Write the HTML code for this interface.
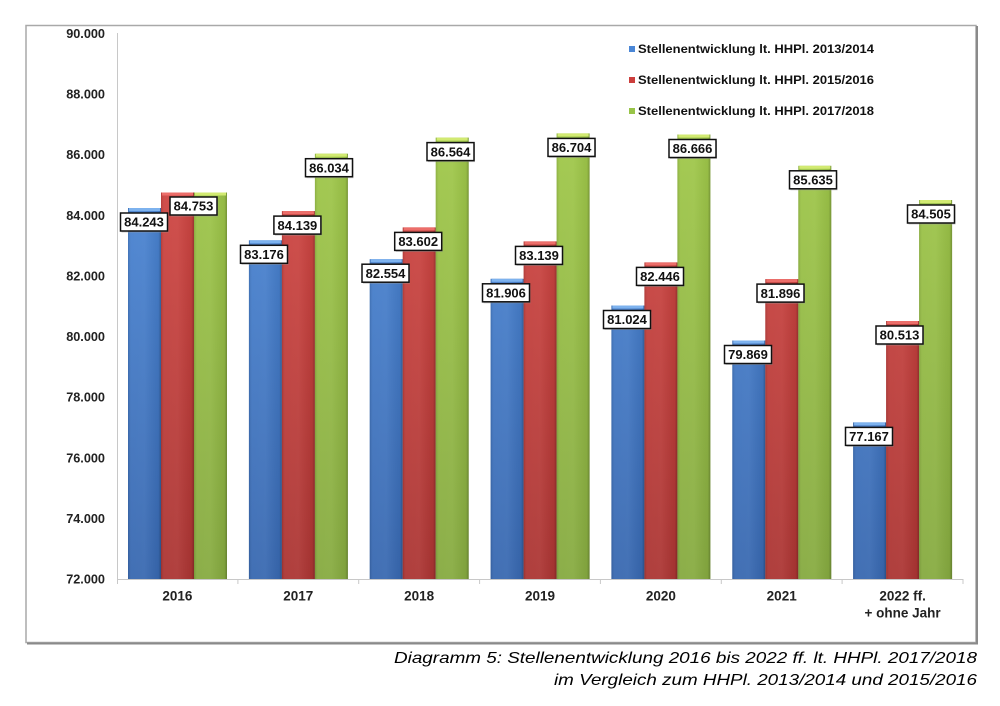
<!DOCTYPE html>
<html><head><meta charset="utf-8"><style>
html,body{margin:0;padding:0;background:#fff;}
svg{display:block;}
text{font-family:"Liberation Sans",Arial,sans-serif;}
</style></head><body>
<svg width="1000" height="706" viewBox="0 0 1000 706" xmlns="http://www.w3.org/2000/svg">
<defs>
<linearGradient id="gb" gradientUnits="userSpaceOnUse" x1="0" y1="33" x2="0" y2="579"><stop offset="0" stop-color="#5290e0"/><stop offset="1" stop-color="#3868b0"/></linearGradient>
<linearGradient id="gr" gradientUnits="userSpaceOnUse" x1="0" y1="33" x2="0" y2="579"><stop offset="0" stop-color="#dc4c48"/><stop offset="1" stop-color="#ab3533"/></linearGradient>
<linearGradient id="gg" gradientUnits="userSpaceOnUse" x1="0" y1="33" x2="0" y2="579"><stop offset="0" stop-color="#a6cf4c"/><stop offset="1" stop-color="#86aa40"/></linearGradient>
<linearGradient id="side" x1="0" y1="0" x2="1" y2="0"><stop offset="0" stop-color="#000" stop-opacity="0.12"/><stop offset="0.1" stop-color="#fff" stop-opacity="0.05"/><stop offset="0.5" stop-color="#fff" stop-opacity="0.06"/><stop offset="0.92" stop-color="#000" stop-opacity="0.05"/><stop offset="1" stop-color="#000" stop-opacity="0.25"/></linearGradient>
</defs>
<rect width="1000" height="706" fill="#fff"/>
<!-- frame -->
<rect x="26" y="25.5" width="950" height="617" fill="#fff" stroke="#a9a9a9" stroke-width="1.5"/>
<line x1="977" y1="26" x2="977" y2="644" stroke="#8a8a8a" stroke-width="2"/>
<line x1="27" y1="643.5" x2="978" y2="643.5" stroke="#8a8a8a" stroke-width="2"/>

<!-- axes -->
<line x1="117.5" y1="33" x2="117.5" y2="579" stroke="#c8c8c8" stroke-width="1"/>
<line x1="117" y1="579.5" x2="963" y2="579.5" stroke="#c8c8c8" stroke-width="1"/>
<g stroke="#c8c8c8" stroke-width="1">
<line x1="117.5" y1="579" x2="117.5" y2="584"/>
<line x1="237.9" y1="579" x2="237.9" y2="584"/>
<line x1="358.7" y1="579" x2="358.7" y2="584"/>
<line x1="479.6" y1="579" x2="479.6" y2="584"/>
<line x1="600.4" y1="579" x2="600.4" y2="584"/>
<line x1="721.3" y1="579" x2="721.3" y2="584"/>
<line x1="842.1" y1="579" x2="842.1" y2="584"/>
<line x1="963" y1="579" x2="963" y2="584"/>
</g>

<!-- y labels -->
<g font-size="12.7" font-weight="bold" fill="#222" text-anchor="end">
<text x="105" y="38">90.000</text>
<text x="105" y="98.6">88.000</text>
<text x="105" y="159.2">86.000</text>
<text x="105" y="219.8">84.000</text>
<text x="105" y="280.4">82.000</text>
<text x="105" y="341.1">80.000</text>
<text x="105" y="401.7">78.000</text>
<text x="105" y="462.3">76.000</text>
<text x="105" y="522.9">74.000</text>
<text x="105" y="583.5">72.000</text>
</g>

<!-- x labels -->
<g font-size="13.5" font-weight="bold" fill="#222" text-anchor="middle">
<text x="177.4" y="600.5">2016</text>
<text x="298.3" y="600.5">2017</text>
<text x="419.1" y="600.5">2018</text>
<text x="540" y="600.5">2019</text>
<text x="660.9" y="600.5">2020</text>
<text x="781.7" y="600.5">2021</text>
<text x="902.6" y="600.5">2022 ff.</text>
<text x="902.6" y="617.5">+ ohne Jahr</text>
</g>

<!-- bars -->
<g>
<rect x="128" y="208" width="33" height="371" fill="url(#gb)"/>
<rect x="161" y="192.5" width="33" height="386.5" fill="url(#gr)"/>
<rect x="194" y="192.5" width="33" height="386.5" fill="url(#gg)"/>
<rect x="248.9" y="240.3" width="33" height="338.7" fill="url(#gb)"/>
<rect x="281.9" y="211.1" width="33" height="367.9" fill="url(#gr)"/>
<rect x="314.9" y="153.7" width="33" height="425.3" fill="url(#gg)"/>
<rect x="369.7" y="259.2" width="33" height="319.8" fill="url(#gb)"/>
<rect x="402.7" y="227.4" width="33" height="351.6" fill="url(#gr)"/>
<rect x="435.7" y="137.6" width="33" height="441.4" fill="url(#gg)"/>
<rect x="490.6" y="278.8" width="33" height="300.2" fill="url(#gb)"/>
<rect x="523.6" y="241.4" width="33" height="337.6" fill="url(#gr)"/>
<rect x="556.6" y="133.4" width="33" height="445.6" fill="url(#gg)"/>
<rect x="611.4" y="305.5" width="33" height="273.5" fill="url(#gb)"/>
<rect x="644.4" y="262.4" width="33" height="316.6" fill="url(#gr)"/>
<rect x="677.4" y="134.5" width="33" height="444.5" fill="url(#gg)"/>
<rect x="732.3" y="340.5" width="33" height="238.5" fill="url(#gb)"/>
<rect x="765.3" y="279.1" width="33" height="299.9" fill="url(#gr)"/>
<rect x="798.3" y="165.8" width="33" height="413.2" fill="url(#gg)"/>
<rect x="853.1" y="422.4" width="33" height="156.6" fill="url(#gb)"/>
<rect x="886.1" y="321" width="33" height="258" fill="url(#gr)"/>
<rect x="919.1" y="200" width="33" height="379" fill="url(#gg)"/>
</g>
<!-- side shading overlay -->
<g>
<rect x="128" y="208" width="33" height="371" fill="url(#side)"/>
<rect x="161" y="192.5" width="33" height="386.5" fill="url(#side)"/>
<rect x="194" y="192.5" width="33" height="386.5" fill="url(#side)"/>
<rect x="248.9" y="240.3" width="33" height="338.7" fill="url(#side)"/>
<rect x="281.9" y="211.1" width="33" height="367.9" fill="url(#side)"/>
<rect x="314.9" y="153.7" width="33" height="425.3" fill="url(#side)"/>
<rect x="369.7" y="259.2" width="33" height="319.8" fill="url(#side)"/>
<rect x="402.7" y="227.4" width="33" height="351.6" fill="url(#side)"/>
<rect x="435.7" y="137.6" width="33" height="441.4" fill="url(#side)"/>
<rect x="490.6" y="278.8" width="33" height="300.2" fill="url(#side)"/>
<rect x="523.6" y="241.4" width="33" height="337.6" fill="url(#side)"/>
<rect x="556.6" y="133.4" width="33" height="445.6" fill="url(#side)"/>
<rect x="611.4" y="305.5" width="33" height="273.5" fill="url(#side)"/>
<rect x="644.4" y="262.4" width="33" height="316.6" fill="url(#side)"/>
<rect x="677.4" y="134.5" width="33" height="444.5" fill="url(#side)"/>
<rect x="732.3" y="340.5" width="33" height="238.5" fill="url(#side)"/>
<rect x="765.3" y="279.1" width="33" height="299.9" fill="url(#side)"/>
<rect x="798.3" y="165.8" width="33" height="413.2" fill="url(#side)"/>
<rect x="853.1" y="422.4" width="33" height="156.6" fill="url(#side)"/>
<rect x="886.1" y="321" width="33" height="258" fill="url(#side)"/>
<rect x="919.1" y="200" width="33" height="379" fill="url(#side)"/>
</g>
<!-- caps -->
<g>
<rect x="129" y="208" width="31" height="3" fill="#7db2ee"/>
<rect x="162" y="192.5" width="31" height="3" fill="#ec6e6a"/>
<rect x="195" y="192.5" width="31" height="3" fill="#d2ea72"/>
<rect x="249.9" y="240.3" width="31" height="3" fill="#7db2ee"/>
<rect x="282.9" y="211.1" width="31" height="3" fill="#ec6e6a"/>
<rect x="315.9" y="153.7" width="31" height="3" fill="#d2ea72"/>
<rect x="370.7" y="259.2" width="31" height="3" fill="#7db2ee"/>
<rect x="403.7" y="227.4" width="31" height="3" fill="#ec6e6a"/>
<rect x="436.7" y="137.6" width="31" height="3" fill="#d2ea72"/>
<rect x="491.6" y="278.8" width="31" height="3" fill="#7db2ee"/>
<rect x="524.6" y="241.4" width="31" height="3" fill="#ec6e6a"/>
<rect x="557.6" y="133.4" width="31" height="3" fill="#d2ea72"/>
<rect x="612.4" y="305.5" width="31" height="3" fill="#7db2ee"/>
<rect x="645.4" y="262.4" width="31" height="3" fill="#ec6e6a"/>
<rect x="678.4" y="134.5" width="31" height="3" fill="#d2ea72"/>
<rect x="733.3" y="340.5" width="31" height="3" fill="#7db2ee"/>
<rect x="766.3" y="279.1" width="31" height="3" fill="#ec6e6a"/>
<rect x="799.3" y="165.8" width="31" height="3" fill="#d2ea72"/>
<rect x="854.1" y="422.4" width="31" height="3" fill="#7db2ee"/>
<rect x="887.1" y="321" width="31" height="3" fill="#ec6e6a"/>
<rect x="920.1" y="200" width="31" height="3" fill="#d2ea72"/>
</g>

<!-- data labels -->
<g font-size="13" font-weight="bold" fill="#111" text-anchor="middle">
<g transform="translate(144,213)"><rect x="-22.5" y="1.5" width="47" height="18" fill="#999" opacity="0.5"/><rect x="-23.5" y="0" width="47" height="18" fill="#fff" stroke="#111" stroke-width="1.5"/><text x="0" y="13.7">84.243</text></g>
<g transform="translate(193.5,197)"><rect x="-22.5" y="1.5" width="47" height="18" fill="#999" opacity="0.5"/><rect x="-23.5" y="0" width="47" height="18" fill="#fff" stroke="#111" stroke-width="1.5"/><text x="0" y="13.7">84.753</text></g>

<g transform="translate(264,245.3)"><rect x="-22.5" y="1.5" width="47" height="18" fill="#999" opacity="0.5"/><rect x="-23.5" y="0" width="47" height="18" fill="#fff" stroke="#111" stroke-width="1.5"/><text x="0" y="13.7">83.176</text></g>
<g transform="translate(297.4,216.1)"><rect x="-22.5" y="1.5" width="47" height="18" fill="#999" opacity="0.5"/><rect x="-23.5" y="0" width="47" height="18" fill="#fff" stroke="#111" stroke-width="1.5"/><text x="0" y="13.7">84.139</text></g>
<g transform="translate(329,158.7)"><rect x="-22.5" y="1.5" width="47" height="18" fill="#999" opacity="0.5"/><rect x="-23.5" y="0" width="47" height="18" fill="#fff" stroke="#111" stroke-width="1.5"/><text x="0" y="13.7">86.034</text></g>

<g transform="translate(385.5,264.2)"><rect x="-22.5" y="1.5" width="47" height="18" fill="#999" opacity="0.5"/><rect x="-23.5" y="0" width="47" height="18" fill="#fff" stroke="#111" stroke-width="1.5"/><text x="0" y="13.7">82.554</text></g>
<g transform="translate(418.2,232.4)"><rect x="-22.5" y="1.5" width="47" height="18" fill="#999" opacity="0.5"/><rect x="-23.5" y="0" width="47" height="18" fill="#fff" stroke="#111" stroke-width="1.5"/><text x="0" y="13.7">83.602</text></g>
<g transform="translate(450.5,142.6)"><rect x="-22.5" y="1.5" width="47" height="18" fill="#999" opacity="0.5"/><rect x="-23.5" y="0" width="47" height="18" fill="#fff" stroke="#111" stroke-width="1.5"/><text x="0" y="13.7">86.564</text></g>

<g transform="translate(506,283.8)"><rect x="-22.5" y="1.5" width="47" height="18" fill="#999" opacity="0.5"/><rect x="-23.5" y="0" width="47" height="18" fill="#fff" stroke="#111" stroke-width="1.5"/><text x="0" y="13.7">81.906</text></g>
<g transform="translate(539,246.4)"><rect x="-22.5" y="1.5" width="47" height="18" fill="#999" opacity="0.5"/><rect x="-23.5" y="0" width="47" height="18" fill="#fff" stroke="#111" stroke-width="1.5"/><text x="0" y="13.7">83.139</text></g>
<g transform="translate(571.5,138.4)"><rect x="-22.5" y="1.5" width="47" height="18" fill="#999" opacity="0.5"/><rect x="-23.5" y="0" width="47" height="18" fill="#fff" stroke="#111" stroke-width="1.5"/><text x="0" y="13.7">86.704</text></g>

<g transform="translate(627,310.5)"><rect x="-22.5" y="1.5" width="47" height="18" fill="#999" opacity="0.5"/><rect x="-23.5" y="0" width="47" height="18" fill="#fff" stroke="#111" stroke-width="1.5"/><text x="0" y="13.7">81.024</text></g>
<g transform="translate(660,267.4)"><rect x="-22.5" y="1.5" width="47" height="18" fill="#999" opacity="0.5"/><rect x="-23.5" y="0" width="47" height="18" fill="#fff" stroke="#111" stroke-width="1.5"/><text x="0" y="13.7">82.446</text></g>
<g transform="translate(692.5,139.5)"><rect x="-22.5" y="1.5" width="47" height="18" fill="#999" opacity="0.5"/><rect x="-23.5" y="0" width="47" height="18" fill="#fff" stroke="#111" stroke-width="1.5"/><text x="0" y="13.7">86.666</text></g>

<g transform="translate(748,345.5)"><rect x="-22.5" y="1.5" width="47" height="18" fill="#999" opacity="0.5"/><rect x="-23.5" y="0" width="47" height="18" fill="#fff" stroke="#111" stroke-width="1.5"/><text x="0" y="13.7">79.869</text></g>
<g transform="translate(780.5,284.1)"><rect x="-22.5" y="1.5" width="47" height="18" fill="#999" opacity="0.5"/><rect x="-23.5" y="0" width="47" height="18" fill="#fff" stroke="#111" stroke-width="1.5"/><text x="0" y="13.7">81.896</text></g>
<g transform="translate(813,170.8)"><rect x="-22.5" y="1.5" width="47" height="18" fill="#999" opacity="0.5"/><rect x="-23.5" y="0" width="47" height="18" fill="#fff" stroke="#111" stroke-width="1.5"/><text x="0" y="13.7">85.635</text></g>

<g transform="translate(869,427.4)"><rect x="-22.5" y="1.5" width="47" height="18" fill="#999" opacity="0.5"/><rect x="-23.5" y="0" width="47" height="18" fill="#fff" stroke="#111" stroke-width="1.5"/><text x="0" y="13.7">77.167</text></g>
<g transform="translate(899.5,326)"><rect x="-22.5" y="1.5" width="47" height="18" fill="#999" opacity="0.5"/><rect x="-23.5" y="0" width="47" height="18" fill="#fff" stroke="#111" stroke-width="1.5"/><text x="0" y="13.7">80.513</text></g>
<g transform="translate(931,205)"><rect x="-22.5" y="1.5" width="47" height="18" fill="#999" opacity="0.5"/><rect x="-23.5" y="0" width="47" height="18" fill="#fff" stroke="#111" stroke-width="1.5"/><text x="0" y="13.7">84.505</text></g>
</g>

<!-- legend -->
<rect x="629" y="46" width="6" height="6" fill="#4a86d6"/>
<rect x="629" y="77" width="6" height="6" fill="#cc3e3c"/>
<rect x="629" y="108" width="6" height="6" fill="#98c448"/>
<g font-size="11.5" font-weight="bold" fill="#111">
<text x="638" y="53" textLength="236" lengthAdjust="spacingAndGlyphs">Stellenentwicklung lt. HHPl. 2013/2014</text>
<text x="638" y="84" textLength="236" lengthAdjust="spacingAndGlyphs">Stellenentwicklung lt. HHPl. 2015/2016</text>
<text x="638" y="115" textLength="236" lengthAdjust="spacingAndGlyphs">Stellenentwicklung lt. HHPl. 2017/2018</text>
</g>

<!-- caption -->
<g font-size="16" font-style="italic" fill="#000" text-anchor="end">
<text x="977" y="663" textLength="583" lengthAdjust="spacingAndGlyphs">Diagramm 5: Stellenentwicklung 2016 bis 2022 ff. lt. HHPl. 2017/2018</text>
<text x="977" y="685" textLength="423" lengthAdjust="spacingAndGlyphs">im Vergleich zum HHPl. 2013/2014 und 2015/2016</text>
</g>
</svg>
</body></html>
